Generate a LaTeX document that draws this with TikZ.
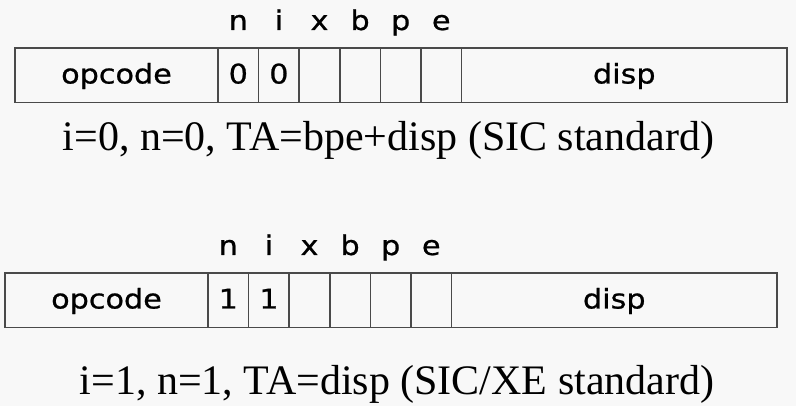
\documentclass[tikz,border=0pt]{standalone}
\usepackage{fontspec}
\setmainfont{Liberation Serif}
\newfontfamily\fieldfont[FakeStretch=1.12,FakeBold=0.8]{DejaVu Sans}
\definecolor{rulegray}{HTML}{4A4A4A}
\definecolor{paper}{HTML}{F8F8F8}
\tikzset{
  field/.style={font=\fieldfont\fontsize{27}{30}\selectfont,anchor=base,inner sep=0pt},
  caption/.style={font=\fontsize{42}{48}\selectfont,anchor=base,inner sep=0pt}
}

\begin{document}
\begin{tikzpicture}[x=1pt,y=-1pt]
  \fill[paper] (0,0) rectangle (796,406);
  \useasboundingbox (0,0) rectangle (796,406);
  % the two instruction formats
  \foreach \sx/\sy/\bit/\nm in {15/48/0/top,5/273/1/bot}{
    \begin{scope}[shift={(\sx,\sy)}]
      \draw[rulegray,line width=1.5pt] (0,0) rectangle (772,54.5);
      \foreach \k in {0,...,6}
        \draw[rulegray,line width=1.5pt] (203+40.6*\k,0) -- (203+40.6*\k,54.5);
      \node[field] (\nm-op) at (101.5,35.5) {opcode};
      \node[field] (\nm-n) at (223.3,35.5) {\bit};
      \node[field] (\nm-i) at (263.9,35.5) {\bit};
      \node[field] (\nm-disp) at (609.3,35.5) {disp};
      \foreach \f [count=\k from 0] in {n,i,x,b,p,e}
        \node[field] (\nm-flag-\f) at (223.3+40.6*\k,-18) {\f};
    \end{scope}
  }
  \node[caption] (cap-sic) at (388.5,151) {i=0, n=0, TA=bpe+disp (SIC standard)};
  \node[caption] (cap-xe) at (397,395) {i=1, n=1, TA=disp (SIC/XE standard)};
\end{tikzpicture}
\end{document}
